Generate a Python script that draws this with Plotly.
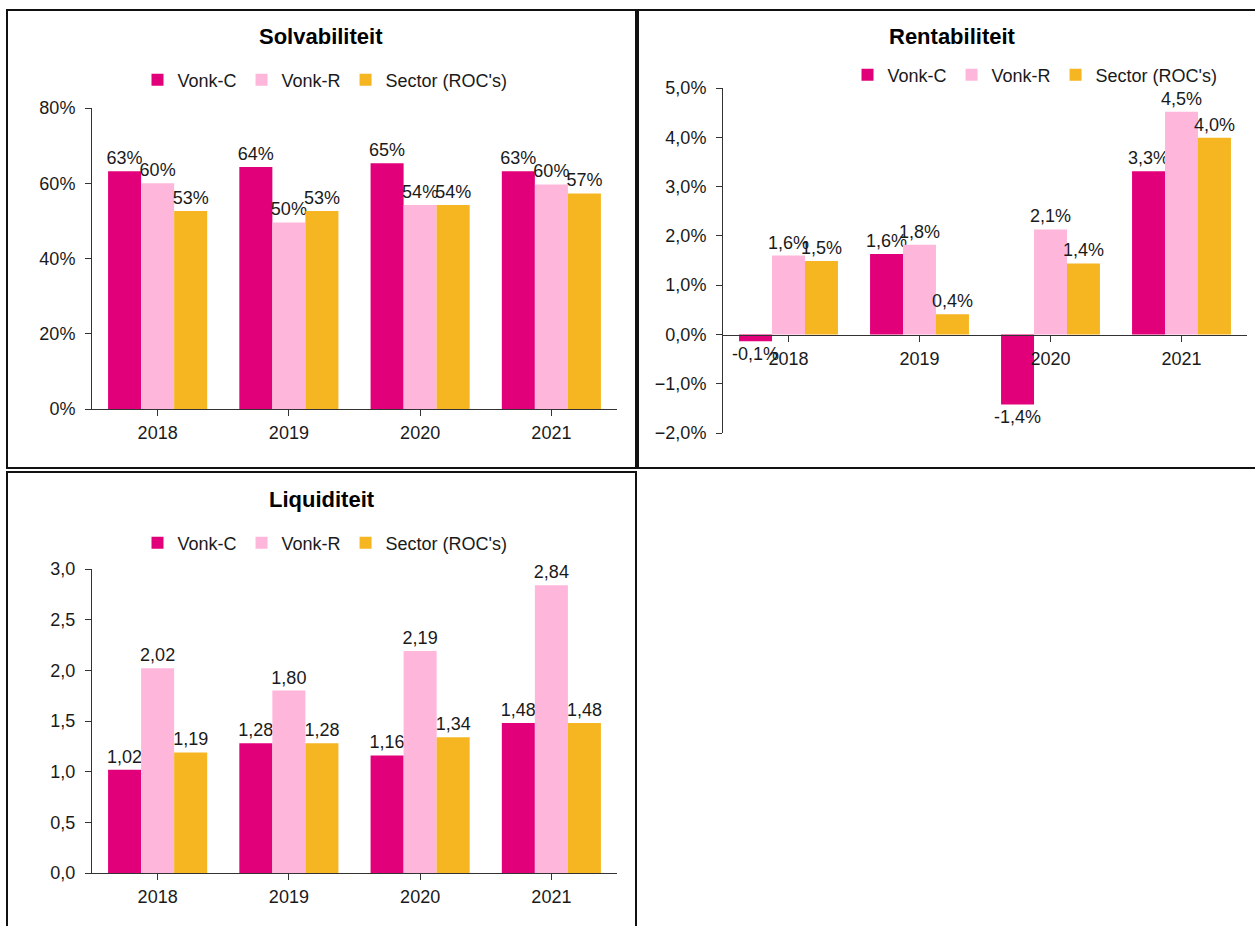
import plotly.graph_objects as go

# ---------------- data ----------------
years = ["2018", "2019", "2020", "2021"]
series_names = ["Vonk-C", "Vonk-R", "Sector (ROC's)"]

solv_vonk_c = [0.632, 0.643, 0.653, 0.632]
solv_vonk_r = [0.600, 0.496, 0.542, 0.597]
solv_sector = [0.526, 0.526, 0.542, 0.573]

rent_vonk_c = [-0.0014, 0.0163, -0.0142, 0.0331]
rent_vonk_r = [0.0160, 0.0182, 0.0213, 0.0452]
rent_sector = [0.0149, 0.0041, 0.0144, 0.0399]

liq_vonk_c = [1.02, 1.28, 1.16, 1.48]
liq_vonk_r = [2.02, 1.80, 2.19, 2.84]
liq_sector = [1.19, 1.28, 1.34, 1.48]

titles = ["Solvabiliteit", "Rentabiliteit", "Liquiditeit"]

# ---------------- style ----------------
W, H = 1255, 926
FONT = "Liberation Sans, Arial, sans-serif"
COLORS = ["#E2007A", "#FFB6DB", "#F5B622"]
TXT = "#1a1a1a"
AX = "#333333"


def px(x):
    return x / W


def py(y):
    return 1 - y / H


def fmt_pct0(v):
    return f"{round(v * 100):.0f}%"


def fmt_pct1(v):
    return f"{v * 100:.1f}%".replace(".", ",")


def fmt_dec2(v):
    return f"{v:.2f}".replace(".", ",")


fig = go.Figure()

panels = [
    ("x", "y", "legend", [solv_vonk_c, solv_vonk_r, solv_sector], fmt_pct0),
    ("x2", "y2", "legend2", [rent_vonk_c, rent_vonk_r, rent_sector], fmt_pct1),
    ("x3", "y3", "legend3", [liq_vonk_c, liq_vonk_r, liq_sector], fmt_dec2),
]

for xa, ya, lg, series, fmt in panels:
    for name, vals, col in zip(series_names, series, COLORS):
        fig.add_trace(go.Bar(
            x=years, y=vals, name=name,
            marker=dict(color=col, line=dict(width=0)),
            text=[fmt(v) for v in vals],
            textposition="outside",
            textfont=dict(family=FONT, size=18, color=TXT),
            constraintext="none",
            cliponaxis=False,
            xaxis=xa, yaxis=ya, legend=lg,
            hoverinfo="skip",
        ))

axis_common = dict(
    showgrid=False, zeroline=False, showline=True, linecolor=AX, linewidth=1,
    ticks="outside", ticklen=6, tickcolor=AX, automargin=False,
    tickfont=dict(family=FONT, size=18, color=TXT),
    fixedrange=True,
)
xaxis_common = dict(axis_common, tickson="boundaries", ticklabelstandoff=1)
yaxis_common = dict(axis_common, ticklabelstandoff=6)

legend_common = dict(
    orientation="h", xanchor="center", yanchor="middle",
    font=dict(family=FONT, size=18, color=TXT),
    bgcolor="rgba(0,0,0,0)", itemwidth=30, tracegroupgap=0,
)

fig.update_layout(
    template="none",
    width=W, height=H,
    margin=dict(l=0, r=0, t=0, b=0, autoexpand=False),
    paper_bgcolor="white", plot_bgcolor="white",
    separators=", ",
    barmode="group", bargap=0.245, bargroupgap=0,
    font=dict(family=FONT, color=TXT),
    xaxis=dict(xaxis_common, domain=[px(92), px(617)], anchor="y"),
    yaxis=dict(yaxis_common, domain=[py(409), py(108)], range=[0, 0.8],
               dtick=0.2, tickformat=".0%", anchor="x"),
    xaxis2=dict(xaxis_common, domain=[px(723), px(1247)], anchor="free",
                position=py(335)),
    yaxis2=dict(yaxis_common, domain=[py(433), py(88)], range=[-0.02, 0.05],
                dtick=0.01, tickformat=".1%", anchor="x2"),
    xaxis3=dict(xaxis_common, domain=[px(92), px(617)], anchor="y3"),
    yaxis3=dict(yaxis_common, domain=[py(873), py(569)], range=[0, 3],
                dtick=0.5, tickformat=".1f", anchor="x3"),
    legend=dict(legend_common, x=px(325), y=py(80)),
    legend2=dict(legend_common, x=px(1035), y=py(75)),
    legend3=dict(legend_common, x=px(325), y=py(543)),
    showlegend=True,
)

# panel frames
frames = [(7, 10, 636, 468), (638, 10, 1258, 468), (7, 472, 636, 930)]
for x0, y0, x1, y1 in frames:
    fig.add_shape(type="rect", xref="paper", yref="paper",
                  x0=px(x0), x1=px(x1), y0=py(y1), y1=py(y0),
                  line=dict(color="#111111", width=2), layer="above")

# panel titles
title_pos = [(321, 37), (953, 37), (322, 499)]
for t, (tx, ty) in zip(titles, title_pos):
    fig.add_annotation(text=f"<b>{t}</b>", xref="paper", yref="paper",
                       x=px(tx), y=py(ty), xanchor="center", yanchor="middle",
                       showarrow=False,
                       font=dict(family=FONT, size=22, color="#000000"))

fig.write_html("out.html")
